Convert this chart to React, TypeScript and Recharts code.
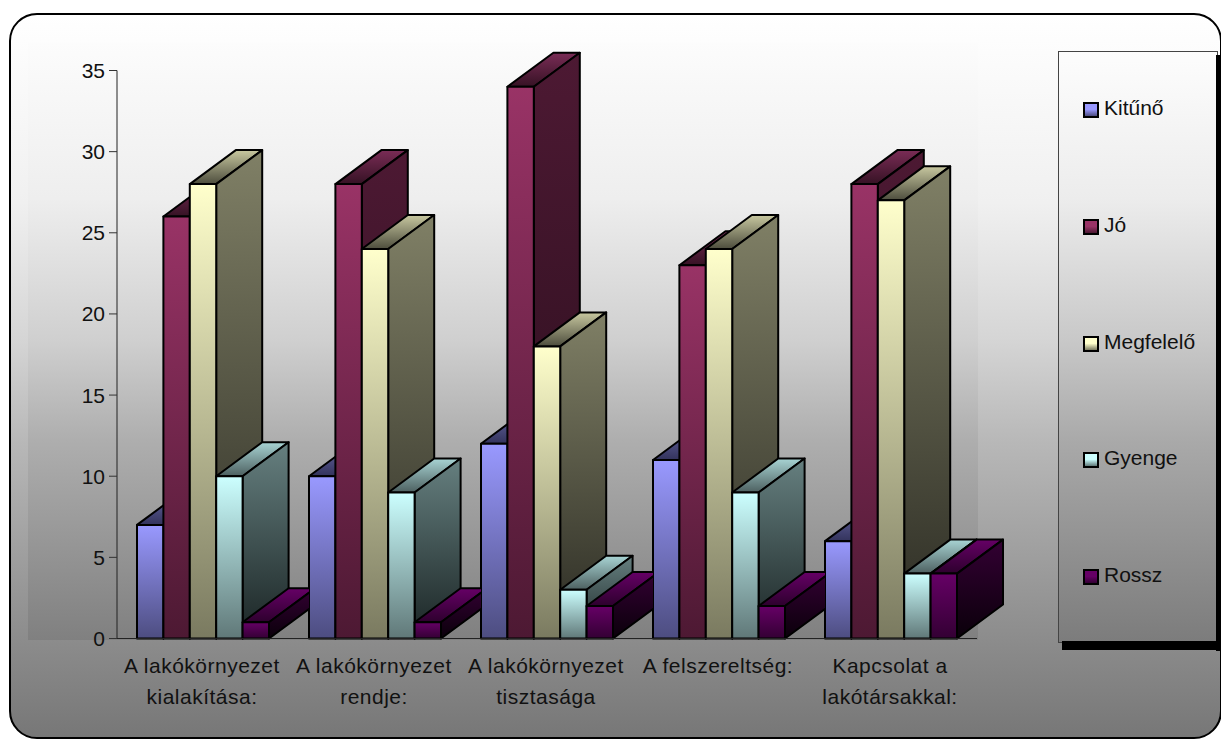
import React from 'react';
import { BarChart, Bar, XAxis, YAxis, Legend } from 'recharts';

const categories = [
  'A lakókörnyezet\nkialakítása:',
  'A lakókörnyezet\nrendje:',
  'A lakókörnyezet\ntisztasága',
  'A felszereltség:',
  'Kapcsolat a\nlakótársakkal:',
];
const seriesNames = ['Kitűnő', 'Jó', 'Megfelelő', 'Gyenge', 'Rossz'];
const kitunoValues = [7, 10, 12, 11, 6];
const joValues = [26, 28, 34, 23, 28];
const megfeleloValues = [28, 24, 18, 24, 27];
const gyengeValues = [10, 9, 3, 9, 4];
const rosszValues = [1, 1, 2, 2, 4];
const yTicks = [0, 5, 10, 15, 20, 25, 30, 35];

const seriesValues = [kitunoValues, joValues, megfeleloValues, gyengeValues, rosszValues];

const data = categories.map((name, i) => {
  const row: Record<string, string | number> = { name };
  seriesNames.forEach((s, j) => {
    row[s] = seriesValues[j][i];
  });
  return row;
});

// front light, front dark, side light, side dark, top back, top front
const palette = [
  ['#9999ff', '#4d4d80', '#4d4d80', '#1a1a33', '#6a6aa8', '#33335c'],
  ['#993366', '#4d1933', '#4d1933', '#260d1a', '#7a2c56', '#361224'],
  ['#ffffcc', '#7a7a60', '#808066', '#2a2a22', '#c8c8a0', '#4d4d3d'],
  ['#ccffff', '#607878', '#668080', '#1a2424', '#a8d4d4', '#4d6060'],
  ['#660066', '#330033', '#330033', '#0a000a', '#660066', '#2d002d'],
];

const FONT = '"Liberation Sans", Arial, sans-serif';
const DEPTH_X = 46;
const DEPTH_Y = 34;
const GROUP_GAP = 40;

function Box3D(props: any) {
  const { x, y, width, height, index, series } = props;
  const r = x + width;
  const b = y + height;
  const clipNext = series === 4 && index < categories.length - 1;
  const clipId = `clip-next-${index}`;
  const line = { stroke: '#000', strokeWidth: 2, strokeLinejoin: 'round' as const };
  return (
    <g clipPath={clipNext ? `url(#${clipId})` : undefined}>
      {clipNext && (
        <clipPath id={clipId}>
          <rect x={x - 2} y={y - 60} width={width + GROUP_GAP + 2} height={height + 120} />
        </clipPath>
      )}
      <polygon
        points={`${x},${y} ${x + DEPTH_X},${y - DEPTH_Y} ${r + DEPTH_X},${y - DEPTH_Y} ${r},${y}`}
        fill={`url(#top${series})`}
        {...line}
      />
      <polygon
        points={`${r},${y} ${r + DEPTH_X},${y - DEPTH_Y} ${r + DEPTH_X},${b - DEPTH_Y} ${r},${b}`}
        fill={`url(#side${series})`}
        {...line}
      />
      <rect x={x} y={y} width={width} height={height} fill={`url(#front${series})`} {...line} />
    </g>
  );
}

function CategoryTick(props: any) {
  const { x, y, payload } = props;
  const lines = String(payload.value).split('\n');
  return (
    <text
      x={x - 1}
      y={y}
      textAnchor="middle"
      fontFamily={FONT}
      fontSize={21}
      fill="#111"
      letterSpacing={0.5}
    >
      {lines.map((l, i) => (
        <tspan key={l} x={x - 1} dy={i === 0 ? 26 : 31}>
          {l}
        </tspan>
      ))}
    </text>
  );
}

function LegendBox({ payload }: any) {
  return (
    <div
      style={{
        position: 'absolute',
        left: 0,
        top: 0,
        width: 160,
        height: 592,
        boxSizing: 'border-box',
        border: '1px solid #444',
        fontFamily: FONT,
        fontSize: 21,
        background: 'linear-gradient(#fdfdfd, #ececec 25%, #c8c8c8 49%, #a9a9a9 66%, #7c7c7c)',
      }}
    >
      {payload.map((p: any, i: number) => {
        const k = seriesNames.indexOf(p.value);
        return (
          <div
            key={p.value}
            style={{
              position: 'absolute',
              left: 24,
              top: 28 + i * 116.8,
              height: 60,
              display: 'flex',
              alignItems: 'center',
              color: '#111',
            }}
          >
            <span
              style={{
                width: 12,
                height: 12,
                border: '2px solid #000',
                marginRight: 5,
                background: `linear-gradient(${palette[k][0]} 45%, ${palette[k][1]})`,
              }}
            />
            <span style={{ position: 'relative', top: -2 }}>{p.value}</span>
          </div>
        );
      })}
      <div style={{ position: 'absolute', left: 157, top: 3, width: 6, height: 596, background: '#000' }} />
      <div style={{ position: 'absolute', left: 3, top: 589, width: 160, height: 9, background: '#000' }} />
    </div>
  );
}

export default function App() {
  return (
    <div
      style={{
        position: 'absolute',
        left: 0,
        top: 0,
        width: 1221,
        height: 740,
        overflow: 'hidden',
        background: '#fff',
      }}
    >
      <div
        style={{
          position: 'absolute',
          left: 9,
          top: 13,
          width: 1213,
          height: 726,
          boxSizing: 'border-box',
          border: '2px solid #000',
          borderRadius: 28,
          background: 'linear-gradient(#ffffff, #f0f0f0 26%, #d5d5d5 45%, #b8b8b8 59%, #8c8c8c 86.5%, #777777)',
        }}
      />
      <div
        style={{
          position: 'absolute',
          left: 28,
          top: 43,
          width: 950,
          height: 597,
          background: 'linear-gradient(#fcfcfc, #eeeeee 26%, #cfcfcf 50%, #aeaeae 66.5%, #808080)',
        }}
      />
      <div style={{ position: 'absolute', left: 0, top: 0 }}>
        <BarChart
          width={1221}
          height={740}
          data={data}
          barGap={0}
          barSize={26.4}
          margin={{ top: 70.5, right: 244, bottom: 41.5, left: 57 }}
          style={{ overflow: 'visible' }}
        >
          <defs>
            {palette.map((c, i) => (
              <React.Fragment key={i}>
                <linearGradient id={`front${i}`} x1="0" y1="0" x2="0" y2="1">
                  <stop offset="0%" stopColor={c[0]} />
                  <stop offset="100%" stopColor={c[1]} />
                </linearGradient>
                <linearGradient id={`side${i}`} x1="0" y1="0" x2="0" y2="1">
                  <stop offset="0%" stopColor={c[2]} />
                  <stop offset="100%" stopColor={c[3]} />
                </linearGradient>
                <linearGradient id={`top${i}`} x1="0" y1="0" x2="0" y2="1">
                  <stop offset="0%" stopColor={c[4]} />
                  <stop offset="100%" stopColor={c[5]} />
                </linearGradient>
              </React.Fragment>
            ))}
          </defs>
          <XAxis
            dataKey="name"
            height={60}
            interval={0}
            tick={<CategoryTick />}
            tickLine={false}
            axisLine={{ stroke: '#222' }}
          />
          <YAxis
            width={60}
            domain={[0, 35]}
            ticks={yTicks}
            interval={0}
            tickSize={8}
            tickMargin={4}
            tick={{ fill: '#111', fontSize: 21, fontFamily: FONT }}
            tickLine={{ stroke: '#333' }}
            axisLine={{ stroke: '#222' }}
          />
          <Legend
            content={<LegendBox />}
            itemSorter={(item: any) => seriesNames.indexOf(item.value)}
            wrapperStyle={{ position: 'absolute', left: 1058, top: 51, width: 0, height: 0 }}
          />
          {seriesNames.map((s, i) => (
            <Bar
              key={s}
              dataKey={s}
              fill={palette[i][0]}
              isAnimationActive={false}
              shape={(p: any) => <Box3D {...p} series={i} />}
            />
          ))}
        </BarChart>
      </div>
    </div>
  );
}
